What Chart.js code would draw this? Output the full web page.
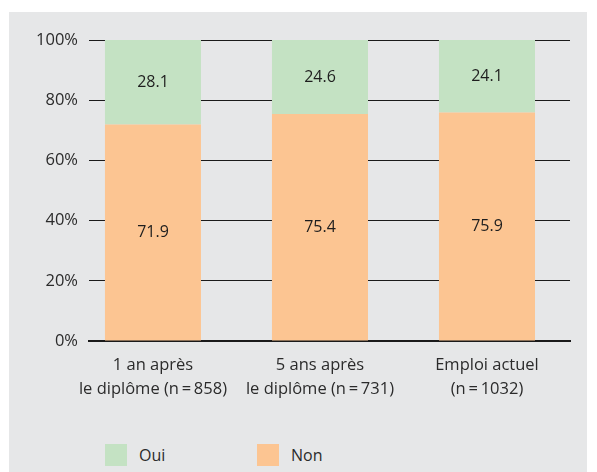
<!DOCTYPE html>
<html>
<head>
<meta charset="utf-8">
<script src="https://cdn.jsdelivr.net/npm/chart.js@4.4.1/dist/chart.umd.min.js"></script>
<style>
  body { margin: 0; background: #fff; }
  #panel { position: absolute; left: 9px; top: 12px; width: 578px; height: 460px; background: #e6e7e8; }
  #myChart { position: absolute; left: 0; top: 0; }
  #legend { position: absolute; left: 96px; top: 432px; display: flex; font: 16px "Open Sans", sans-serif; color: #2b2b2b; }
  .item { width: 152px; display: flex; align-items: center; }
  .box { width: 22px; height: 22px; margin-right: 12px; }
</style>
</head>
<body>
<div id="panel">
  <canvas id="myChart" width="578" height="400"></canvas>
  <div id="legend"></div>
</div>
<script>
const categories = [
    ["1 an après", "le diplôme (n\u2009=\u2009858)"],
    ["5 ans après", "le diplôme (n\u2009=\u2009731)"],
    ["Emploi actuel", "(n\u2009=\u20091032)"]
]
const nonValues = [71.9, 75.4, 75.9]
const ouiValues = [28.1, 24.6, 24.1]
const yTicks = [0, 20, 40, 60, 80, 100]

const fontFamily = '"Open Sans", sans-serif'

// values written in the middle of each bar segment
const barValues = {
    id: 'barValues',
    afterDatasetsDraw(chart) {
        const ctx = chart.ctx
        ctx.save()
        ctx.font = '16px ' + fontFamily
        ctx.fillStyle = '#1e1e1e'
        ctx.textAlign = 'center'
        ctx.textBaseline = 'middle'
        chart.data.datasets.forEach(function(ds, i) {
            chart.getDatasetMeta(i).data.forEach(function(bar, j) {
                ctx.fillText(ds.data[j].y.toFixed(1), bar.x, (bar.y + bar.base) / 2)
            })
        })
        ctx.restore()
    }
}

const data = {
    datasets: [
        {
            label: 'Non',
            data: nonValues.map((v, i) => ({x: i, y: v})),
            backgroundColor: '#fcc592'
        },
        {
            label: 'Oui',
            data: ouiValues.map((v, i) => ({x: i, y: v})),
            backgroundColor: '#c4e2c3'
        }
    ]
}

const config = {
    type: 'bar',
    data: data,
    plugins: [barValues],
    options: {
        responsive: false,
        animation: false,
        layout: {padding: {top: 28, right: 17, left: 0, bottom: 0}},
        barPercentage: 0.575,
        categoryPercentage: 1,
        plugins: {
            legend: {display: false},
            tooltip: {enabled: false}
        },
        scales: {
            x: {
                type: 'linear',
                stacked: true,
                offset: false,
                min: -0.383,
                max: 2.497,
                afterBuildTicks: s => { s.ticks = categories.map((c, i) => ({value: i})) },
                afterFit: s => { s.height = 71 },
                grid: {display: false},
                border: {display: true, color: '#1a1a1a', width: 2},
                ticks: {
                    autoSkip: false,
                    maxRotation: 0,
                    padding: 4,
                    color: '#2b2b2b',
                    font: {family: fontFamily, size: 16.5, lineHeight: 1.45},
                    callback: v => categories[v]
                }
            },
            y: {
                stacked: true,
                min: 0,
                max: 100,
                afterBuildTicks: s => { s.ticks = yTicks.map(v => ({value: v})) },
                afterFit: s => { s.width = 80 },
                grid: {color: '#1a1a1a', lineWidth: 1, drawTicks: false},
                border: {display: false},
                ticks: {
                    padding: 11,
                    color: '#2b2b2b',
                    font: {family: fontFamily, size: 16.5},
                    callback: v => v + '%'
                }
            }
        }
    }
}

var myChart = new Chart(document.getElementById('myChart'), config)

// legend: Oui first, then Non
const legend = document.getElementById('legend')
data.datasets.slice().reverse().forEach(function(ds) {
    const item = document.createElement('div')
    item.className = 'item'
    const box = document.createElement('span')
    box.className = 'box'
    box.style.background = ds.backgroundColor
    item.appendChild(box)
    item.appendChild(document.createTextNode(ds.label))
    legend.appendChild(item)
})
</script>
</body>
</html>
